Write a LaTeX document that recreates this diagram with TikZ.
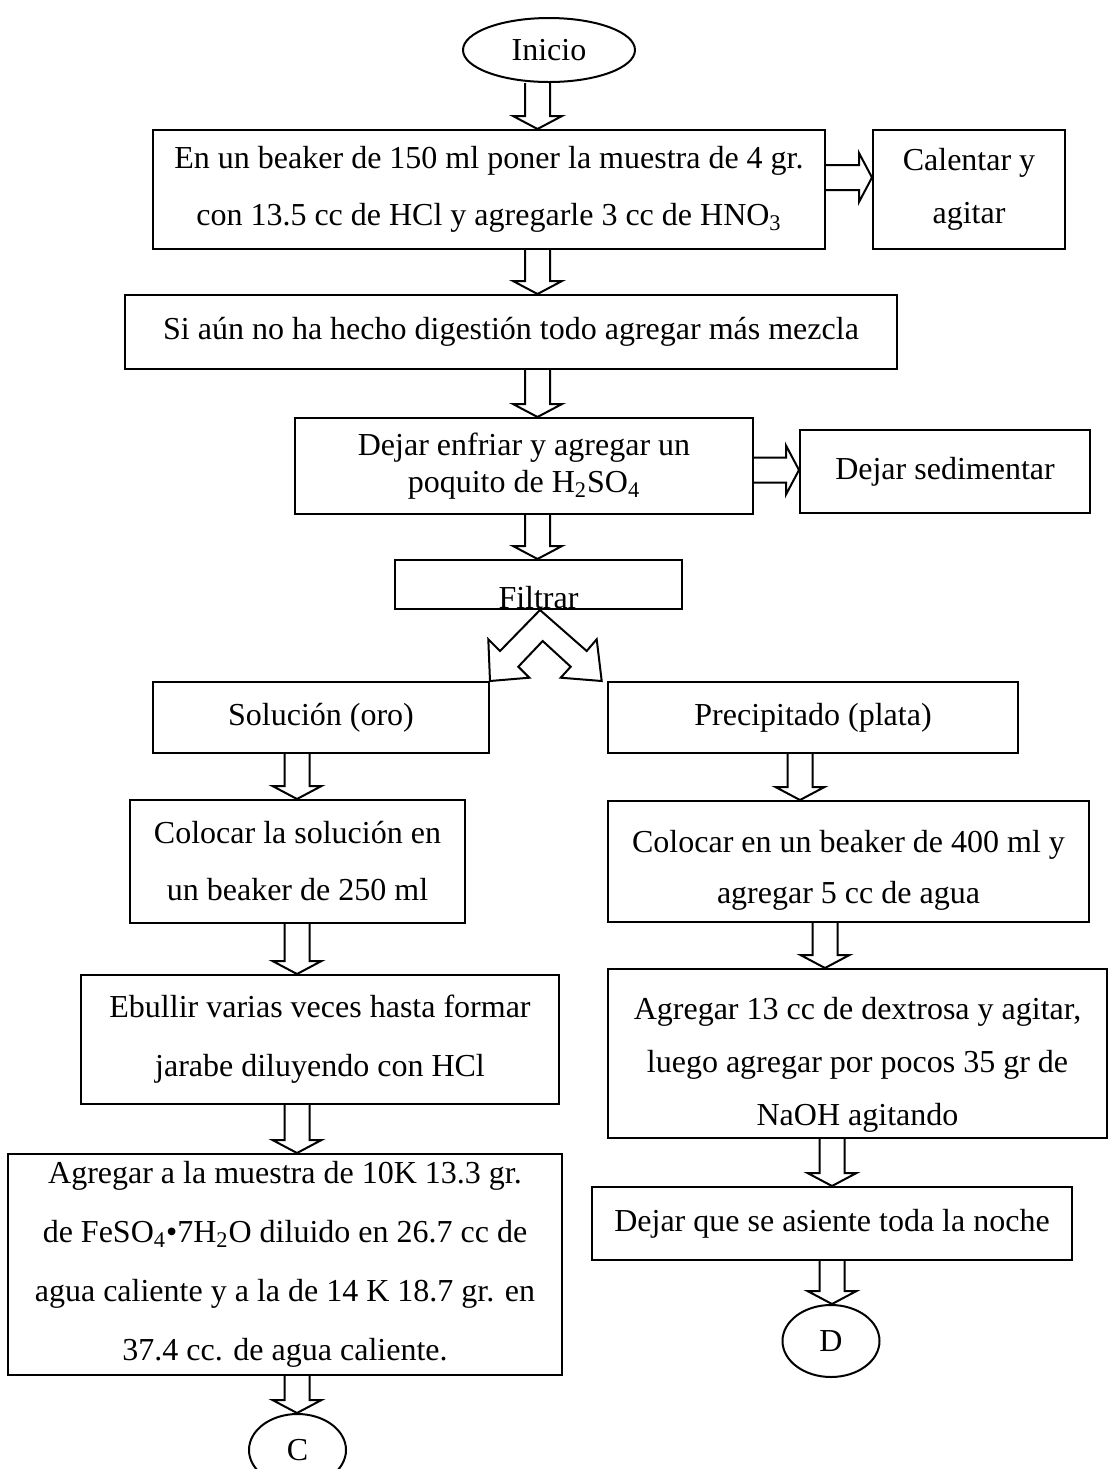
\documentclass[tikz,border=0pt]{standalone}
\usepackage{fontspec}
\setmainfont{Liberation Serif}
\usetikzlibrary{calc,shapes.geometric}
\newcommand\flechaabajo[3]{\draw[flecha] ($(#1 -| #3)+(-12.5,0)$) -- ($(#2 -| #3)+(-12.5,-13)$) -- ($(#2 -| #3)+(-24.5,-13)$) -- (#2 -| #3) -- ($(#2 -| #3)+(24.5,-13)$) -- ($(#2 -| #3)+(12.5,-13)$) -- ($(#1 -| #3)+(12.5,0)$);}
\newcommand\flechader[3]{\draw[flecha] ($(#1 |- #3)+(0,-12.5)$) -- ($(#2 |- #3)+(-13,-12.5)$) -- ($(#2 |- #3)+(-13,-24.5)$) -- (#2 |- #3) -- ($(#2 |- #3)+(-13,24.5)$) -- ($(#2 |- #3)+(-13,12.5)$) -- ($(#1 |- #3)+(0,12.5)$);}

\begin{document}
\begin{tikzpicture}[x=0.5pt,y=-0.5pt,font=\fontsize{16pt}{28.5pt}\selectfont,
  caja/.style={draw,line width=1pt,inner sep=0pt,align=center},
  ovalo/.style={draw,ellipse,line width=1pt,inner sep=0pt},
  flecha/.style={line width=1pt,line join=miter}]
\useasboundingbox (0,0) rectangle (1108,1469);
\coordinate (ejeA) at (537.5,0);
\coordinate (ejeB) at (297,0);
\coordinate (ejeC) at (800,0);
\coordinate (ejeD) at (825,0);
\coordinate (ejeE) at (832,0);
\coordinate (ejeR1) at (0,177.5);
\coordinate (ejeR2) at (0,470);
\node[ovalo,minimum width=86pt,minimum height=32pt] (inicio) at (549,50) {Inicio};
\node[caja,minimum width=336pt,minimum height=59.5pt] (muestra) at (489,189.5) {En un beaker de 150 ml poner la muestra de 4 gr.\\con 13.5 cc de HCl y agregarle 3 cc de HNO\textsubscript{3}};
\node[caja,minimum width=96pt,minimum height=59.5pt,font=\fontsize{16pt}{26.5pt}\selectfont] (calentar) at (969,189.5) {Calentar y\\agitar};
\node[caja,minimum width=386pt,minimum height=37pt] (digestion) at (511,332) {Si aún no ha hecho digestión todo agregar más mezcla};
\node[caja,minimum width=229pt,minimum height=48pt,font=\fontsize{16pt}{18.5pt}\selectfont] (enfriar) at (524,466) {Dejar enfriar y agregar un\\poquito de H\textsubscript{2}SO\textsubscript{4}};
\node[caja,minimum width=145pt,minimum height=41.5pt] (sedimentar) at (945,471.5) {Dejar sedimentar};
\node[caja,minimum width=143.5pt,minimum height=24.5pt] (filtrar) at (538.5,584.5) {};
\begin{scope}
\clip (filtrar.south west) rectangle (filtrar.north east);
\node[anchor=base] (filtrartxt) at ($(filtrar.south)+(0,-2)$) {Filtrar};
\end{scope}
\node[caja,minimum width=168pt,minimum height=35.5pt] (solucion) at (321,717.5) {Solución (oro)};
\node[caja,minimum width=205pt,minimum height=35.5pt] (precipitado) at (813,717.5) {Precipitado (plata)};
\node[caja,minimum width=167.5pt,minimum height=61.5pt] (colocar) at (297.5,861.5) {Colocar la solución en\\un beaker de 250 ml};
\node[caja,minimum width=239pt,minimum height=64.5pt,font=\fontsize{16pt}{29.5pt}\selectfont] (ebullir) at (320,1039.5) {Ebullir varias veces hasta formar\\jarabe diluyendo con HCl};
\node[caja,minimum width=277pt,minimum height=110.5pt,font=\fontsize{16pt}{29.5pt}\selectfont] (sulfato) at (285,1264.5) {Agregar a la muestra de 10K 13.3 gr.\\de FeSO\textsubscript{4}\textbullet 7H\textsubscript{2}O diluido en 26.7 cc de\\agua caliente y a la de 14 K 18.7 gr. en\\37.4 cc. de agua caliente.};
\node[ovalo,minimum width=48.5pt,minimum height=36pt] (C) at (297.5,1450) {C};
\node[caja,minimum width=240.5pt,minimum height=60.5pt,font=\fontsize{16pt}{25.5pt}\selectfont] (beaker) at (848.5,861.5) {\rule{0pt}{20pt}Colocar en un beaker de 400 ml y\\agregar 5 cc de agua};
\node[caja,minimum width=249.5pt,minimum height=84.5pt,font=\fontsize{16pt}{26.5pt}\selectfont] (dextrosa) at (857.5,1053.5) {\rule{0pt}{22pt}Agregar 13 cc de dextrosa y agitar,\\luego agregar por pocos 35 gr de\\NaOH agitando};
\node[caja,minimum width=240pt,minimum height=36.5pt] (noche) at (832,1223.5) {Dejar que se asiente toda la noche};
\node[ovalo,minimum width=48.5pt,minimum height=36pt] (D) at (831,1341) {D};
\flechaabajo{inicio.south}{muestra.north}{ejeA}
\flechaabajo{muestra.south}{digestion.north}{ejeA}
\flechaabajo{digestion.south}{enfriar.north}{ejeA}
\flechaabajo{enfriar.south}{filtrar.north}{ejeA}
\flechader{muestra.east}{calentar.west}{ejeR1}
\flechader{enfriar.east}{sedimentar.west}{ejeR2}
\draw[flecha,shift={(filtrar.south)}] (1.5,0) -- (-38.5,41) -- (-50.2,29.3) -- (-48.5,71) -- (-9.2,67.7) -- (-20.2,56.7) -- (4.2,31) -- (32.2,56.7) -- (22.2,67.7) -- (63.2,71) -- (58.2,29.3) -- (48.2,41) -- cycle;
\flechaabajo{solucion.south}{colocar.north}{ejeB}
\flechaabajo{colocar.south}{ebullir.north}{ejeB}
\flechaabajo{ebullir.south}{sulfato.north}{ejeB}
\flechaabajo{sulfato.south}{C.north}{ejeB}
\flechaabajo{precipitado.south}{beaker.north}{ejeC}
\flechaabajo{beaker.south}{dextrosa.north}{ejeD}
\flechaabajo{dextrosa.south}{noche.north}{ejeE}
\flechaabajo{noche.south}{D.north}{ejeE}
\end{tikzpicture}
\end{document}
